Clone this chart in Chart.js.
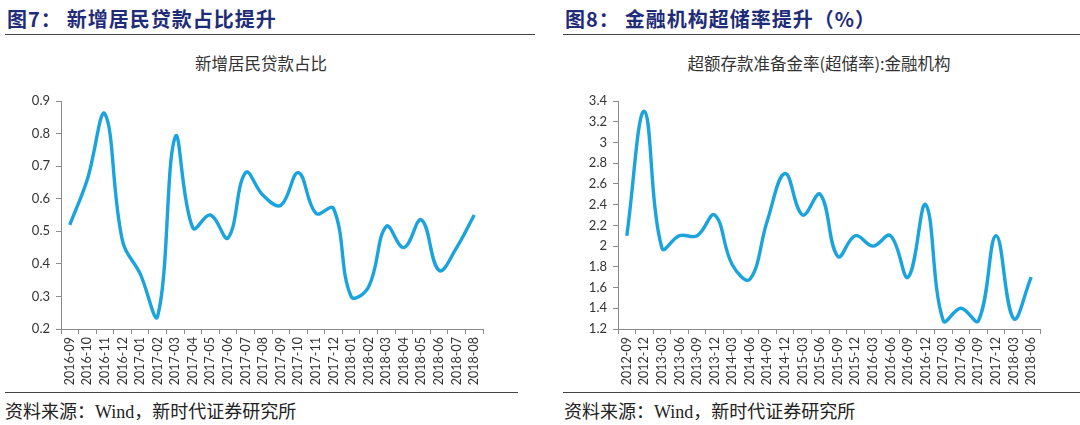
<!DOCTYPE html>
<html>
<head>
<meta charset="utf-8">
<script src="https://cdn.jsdelivr.net/npm/chart.js@4/dist/chart.umd.min.js"></script>
<style>
  body { margin: 0; background: #fff; width: 1080px; height: 425px; overflow: hidden; position: relative; }
  .head { position: absolute; top: 4px; font-family: "Noto Sans CJK SC", sans-serif; font-weight: 700; font-size: 20px; color: #1f2c78; letter-spacing: 1px; white-space: pre; }
  .head span { margin-left: 5px; }
  .rule { position: absolute; height: 0; border-top: 1.5px solid #444; }
  .ctitle { position: absolute; top: 51px; font-family: "Noto Sans CJK SC", sans-serif; font-size: 16.5px; color: #333; transform: translateX(-50%); white-space: nowrap; }
  .foot { position: absolute; top: 397px; font-family: "Liberation Serif", "Noto Sans CJK SC", serif; font-size: 18px; color: #222; white-space: pre; }
  canvas { position: absolute; }
</style>
</head>
<body>
<div class="head" style="left:7px">图7：<span>新增居民贷款占比提升</span></div>
<div class="rule" style="left:5px; width:530px; top:34px"></div>
<div class="head" style="left:565px">图8：<span>金融机构超储率提升（%）</span></div>
<div class="rule" style="left:563px; width:517px; top:34px"></div>

<div class="ctitle" style="left:261px">新增居民贷款占比</div>
<div class="ctitle" style="left:819px">超额存款准备金率(超储率):金融机构</div>

<div style="position:absolute;left:0;top:40px;width:540px;height:352px"><canvas id="c1"></canvas></div>
<div style="position:absolute;left:540px;top:40px;width:540px;height:352px"><canvas id="c2"></canvas></div>

<div class="rule" style="left:5px; width:513px; top:392px"></div>
<div class="rule" style="left:563px; width:517px; top:392px"></div>
<div class="foot" style="left:5px">资料来源：Wind，新时代证券研究所</div>
<div class="foot" style="left:564px">资料来源：Wind，新时代证券研究所</div>

<script>
// data
const loanMonths = ["2016-09","2016-10","2016-11","2016-12","2017-01","2017-02","2017-03","2017-04",
  "2017-05","2017-06","2017-07","2017-08","2017-09","2017-10","2017-11","2017-12",
  "2018-01","2018-02","2018-03","2018-04","2018-05","2018-06","2018-07","2018-08"];
const loanShare = [0.52, 0.66, 0.86, 0.47, 0.37, 0.24, 0.79, 0.51,
  0.55, 0.48, 0.68, 0.61, 0.58, 0.68, 0.555, 0.57,
  0.30, 0.33, 0.515, 0.45, 0.535, 0.38, 0.45, 0.55];

const excessQuarters = ["2012-09","2012-12","2013-03","2013-06","2013-09","2013-12","2014-03","2014-06",
  "2014-09","2014-12","2015-03","2015-06","2015-09","2015-12","2016-03","2016-06",
  "2016-09","2016-12","2017-03","2017-06","2017-09","2017-12","2018-03","2018-06"];
const excessRate = [2.1, 3.3, 1.98, 2.1, 2.1, 2.3, 1.82, 1.68,
  2.25, 2.7, 2.3, 2.5, 1.9, 2.1, 2.0, 2.1,
  1.7, 2.4, 1.28, 1.4, 1.28, 2.1, 1.3, 1.7];

const LINE = "#1ba3dc";
const AXIS = "#8a8a8a";

function makeChart(id, labels, values, yMin, yMax, step, yWidth, padRight) {
  return new Chart(document.getElementById(id), {
    type: "line",
    data: { labels, datasets: [{ data: values, borderColor: LINE, borderWidth: 3.4, pointRadius: 0, tension: 0.4, fill: false }] },
    options: {
      responsive: true,
      maintainAspectRatio: false,
      animation: false,
      layout: { padding: { top: 61, right: padRight, left: 0, bottom: 0 } },
      plugins: { legend: { display: false }, tooltip: { enabled: false } },
      scales: {
        x: {
          offset: true,
          grid: { offset: true, drawOnChartArea: false, drawTicks: true, tickLength: 5, color: AXIS },
          border: { color: AXIS, width: 1 },
          ticks: { minRotation: 90, maxRotation: 90, autoSkip: false, padding: 3, color: "#333",
                   font: { family: "Lato, 'Liberation Sans', sans-serif", size: 12.5 } },
          afterFit: s => { s.height = 63; }
        },
        y: {
          min: yMin, max: yMax,
          grid: { drawOnChartArea: false, drawTicks: true, tickLength: 5, color: AXIS },
          border: { color: AXIS, width: 1 },
          ticks: { stepSize: step, padding: 6, color: "#333",
                   font: { family: "Lato, 'Liberation Sans', sans-serif", size: 13 },
                   callback: v => +v.toFixed(1) },
          afterFit: s => { s.width = yWidth; }
        }
      }
    }
  });
}

makeChart("c1", loanMonths, loanShare, 0.2, 0.9, 0.1, 61, 57);
makeChart("c2", excessQuarters, excessRate, 1.2, 3.4, 0.2, 78, 40);
</script>
</body>
</html>
